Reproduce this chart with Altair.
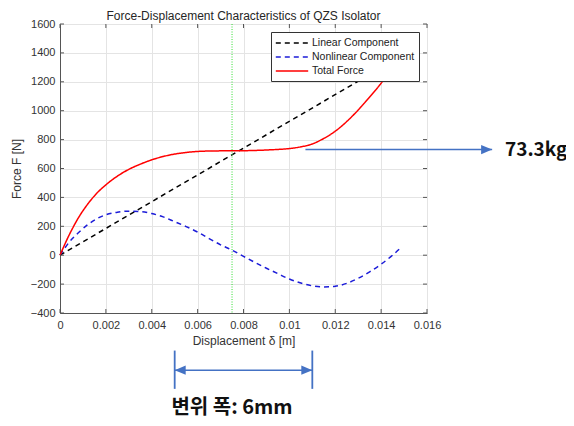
import altair as alt
import pandas as pd

chart_title = "Force-Displacement Characteristics of QZS Isolator"
x_title = "Displacement δ [m]"
y_title = "Force F [N]"

series_names = ["Linear Component", "Nonlinear Component", "Total Force"]
series_colors = ["#000000", "#1c1cd8", "#ff0000"]

linear_x = [0.0, 0.0149]
linear_f = [0.0, 1380.0]

curve_x = [0.0, 0.0004, 0.0008, 0.0012, 0.0016, 0.002, 0.0025, 0.003, 0.0035, 0.004,
           0.0045, 0.005, 0.0055, 0.006, 0.0065, 0.007, 0.0075, 0.008, 0.0085, 0.009,
           0.0095, 0.01, 0.0105, 0.011, 0.0115, 0.012, 0.0125, 0.013, 0.0135, 0.014,
           0.0145, 0.0149]
nonlin_f = [0, 90, 155, 210, 252, 280, 297, 305, 302, 288,
            265, 232, 198, 160, 115, 72, 35, -8, -50, -90,
            -128, -165, -193, -212, -220, -215, -195, -160, -115, -62,
            0, 58]
total_f = [0, 140, 258, 352, 428, 487, 547, 594, 630, 660,
           683, 700, 711, 718, 721, 722, 722, 723, 725, 728,
           732, 738, 750, 770, 808, 858, 925, 1005, 1095, 1190,
           1300, 1400]

x_ticks = [0, 0.002, 0.004, 0.006, 0.008, 0.01, 0.012, 0.014, 0.016]
y_ticks = [-400, -200, 0, 200, 400, 600, 800, 1000, 1200, 1400, 1600]
marker_x = [0.0075]

mass_label = "73.3kg"
mass_arrow_x = [0.0107, 0.01884]
mass_arrow_f = 731
mass_label_x = 0.0194

width_label = "변위 폭: 6mm"
width_x = [0.005, 0.011]
width_f = -796
width_bar_f = [-660, -925]
width_label_x = 0.0075
width_label_f = -1060

ANNO = "#4472C4"
W, H = 367, 289

rows = []
for xv, fv in zip(linear_x, linear_f):
    rows.append({"x": xv, "f": fv, "series": series_names[0]})
for xv, fv in zip(curve_x, nonlin_f):
    rows.append({"x": xv, "f": fv, "series": series_names[1]})
for xv, fv in zip(curve_x, total_f):
    rows.append({"x": xv, "f": fv, "series": series_names[2]})
df = pd.DataFrame(rows)

xscale = alt.Scale(domain=[0, 0.016], nice=False, zero=False)
yscale = alt.Scale(domain=[-400, 1600], nice=False, zero=False)
xaxis = alt.Axis(values=x_ticks, format=".3~f", ticks=False, tickSize=0, labelFlush=False,
                 labelPadding=6, titlePadding=5, grid=True)
yaxis = alt.Axis(values=y_ticks, format="d", ticks=False, tickSize=0, labelFlush=False,
                 labelPadding=5, titlePadding=7, grid=True)


def X(field="x"):
    return alt.X(f"{field}:Q", scale=xscale, axis=xaxis, title=x_title)


def Y(field="f"):
    return alt.Y(f"{field}:Q", scale=yscale, axis=yaxis, title=y_title)


leg = alt.Legend(
    title=None, orient="top-right", offset=8, fillColor="white", strokeColor="#333333",
    padding=4, symbolType="M-2.7,0L2.7,0", symbolSize=144, symbolStrokeWidth=1.8,
    symbolOffset=10, labelOffset=13,
    labelFontSize=10.5, labelFont="Liberation Sans", labelColor="#222222",
    rowPadding=1, cornerRadius=0,
)

lines = alt.Chart(df).mark_line(interpolate="monotone").encode(
    x=X(), y=Y(),
    color=alt.Color("series:N", scale=alt.Scale(domain=series_names, range=series_colors), legend=leg),
    strokeDash=alt.StrokeDash("series:N", scale=alt.Scale(domain=series_names, range=[[5, 4], [5, 4], [1, 0]]), legend=leg),
    strokeWidth=alt.StrokeWidth("series:N", scale=alt.Scale(domain=series_names, range=[1.5, 1.5, 2.5]), legend=None),
)

marker = alt.Chart(pd.DataFrame({"x": marker_x})).mark_rule(
    color="#33dd33", strokeDash=[1, 1.5], strokeWidth=1
).encode(x=X())

xt = pd.DataFrame({"x": x_ticks})
yt = pd.DataFrame({"f": y_ticks})
tick_color = "#555555"
tb = alt.Chart(xt).mark_rule(color=tick_color).encode(x=X(), y=alt.value(H), y2=alt.value(H - 4))
tt = alt.Chart(xt).mark_rule(color=tick_color).encode(x=X(), y=alt.value(0), y2=alt.value(4))
tl = alt.Chart(yt).mark_rule(color=tick_color).encode(y=Y(), x=alt.value(0), x2=alt.value(4))
tr = alt.Chart(yt).mark_rule(color=tick_color).encode(y=Y(), x=alt.value(W), x2=alt.value(W - 4))

# right annotation arrow
ma = pd.DataFrame({"x": [mass_arrow_x[0]], "x2": [mass_arrow_x[1]], "f": [mass_arrow_f]})
mass_line = alt.Chart(ma).mark_rule(color=ANNO, strokeWidth=1.6).encode(x=X(), x2="x2:Q", y=Y())
mass_head = alt.Chart(pd.DataFrame({"x": [mass_arrow_x[1]], "f": [mass_arrow_f]})).mark_point(
    shape="M0,0L-1,-0.42L-1,0.42Z", filled=True, size=484, color=ANNO, opacity=1, strokeWidth=0
).encode(x=X(), y=Y())
mass_text = alt.Chart(pd.DataFrame({"x": [mass_label_x], "f": [mass_arrow_f], "t": [mass_label]})).mark_text(
    align="left", baseline="middle", font="Noto Sans CJK KR", fontWeight="bold", fontSize=19, color="#111111"
).encode(x=X(), y=Y(), text="t:N")

# bottom width annotation
wa = pd.DataFrame({"x": [width_x[0]], "x2": [width_x[1]], "f": [width_f]})
width_line = alt.Chart(wa).mark_rule(color=ANNO, strokeWidth=1.6).encode(x=X(), x2="x2:Q", y=Y())
wb = pd.DataFrame({"x": width_x, "f": [width_bar_f[0]] * 2, "f2": [width_bar_f[1]] * 2})
width_bars = alt.Chart(wb).mark_rule(color=ANNO, strokeWidth=1.8).encode(x=X(), y=Y(), y2="f2:Q")
head_l = alt.Chart(pd.DataFrame({"x": [width_x[0]], "f": [width_f]})).mark_point(
    shape="M0,0L1,-0.42L1,0.42Z", filled=True, size=484, color=ANNO, opacity=1, strokeWidth=0
).encode(x=X(), y=Y())
head_r = alt.Chart(pd.DataFrame({"x": [width_x[1]], "f": [width_f]})).mark_point(
    shape="M0,0L-1,-0.42L-1,0.42Z", filled=True, size=484, color=ANNO, opacity=1, strokeWidth=0
).encode(x=X(), y=Y())
width_text = alt.Chart(pd.DataFrame({"x": [width_label_x], "f": [width_label_f], "t": [width_label]})).mark_text(
    align="center", baseline="middle", font="Noto Sans CJK KR", fontWeight="bold", fontSize=20, color="#111111"
).encode(x=X(), y=Y(), text="t:N")

chart = alt.layer(
    lines, tb, tt, tl, tr, marker,
    mass_line, mass_head, mass_text, width_line, width_bars, head_l, head_r, width_text,
).properties(
    width=W, height=H,
    title=alt.TitleParams(chart_title, fontSize=12, font="Liberation Sans", fontWeight="normal",
                          color="#262626", offset=-5, anchor="middle"),
    autosize=alt.AutoSizeParams(type="none"),
    padding={"left": 52, "top": 16, "right": 139, "bottom": 106},
).configure_view(
    stroke="#555555", strokeWidth=1
).configure_axis(
    domainColor="#555555", gridColor="#e4e4e4", labelColor="#333333", titleColor="#333333",
    labelFont="Liberation Sans", titleFont="Liberation Sans", labelFontSize=11,
    titleFontSize=12, titleFontWeight="normal",
)

chart.save("out.html", embed_options={"renderer": "svg", "actions": False})
